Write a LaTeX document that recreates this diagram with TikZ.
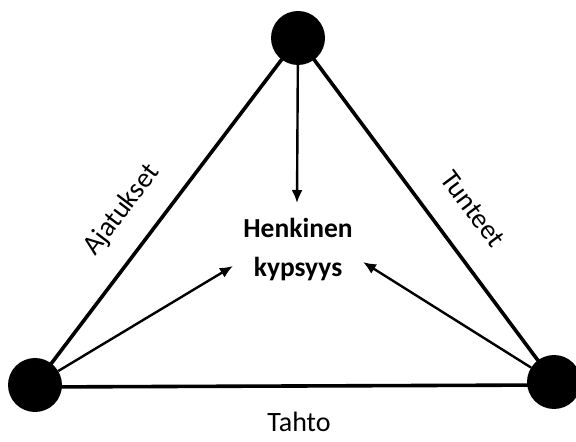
\documentclass[tikz,border=0pt]{standalone}
\usepackage{fontspec}
\setmainfont{Carlito}
\usetikzlibrary{arrows.meta}
\begin{document}
\begin{tikzpicture}[x=1pt,y=1pt,
  dot/.style={circle,fill=black,minimum size=54pt,inner sep=0pt},
  edge/.style={line width=3.6pt},
  pointer/.style={line width=2.4pt,-{Latex[length=13pt,width=11pt]}},
  lbl/.style={font=\fontsize{28}{32}\selectfont,inner sep=0pt}]
\useasboundingbox (0,0) rectangle (576,442);
\node[dot] (top) at (298,404) {};
\node[dot] (bl) at (35,57) {};
\node[dot] (br) at (554,60) {};
\draw[edge] (bl.center) -- (top.center) -- (br.center);
\draw[edge] ([yshift=-2pt]bl.center) -- ([yshift=-3pt]br.center);
\node[font=\fontsize{27.5}{39}\selectfont\bfseries,align=center,inner sep=0pt] (c) at (298,192) {Henkinen\\kypsyys};
\coordinate (t1) at (297,239);
\coordinate (t2) at (233,176);
\coordinate (t3) at (363,180);
\draw[pointer] (top) -- (t1);
\draw[pointer] (bl) -- (t2);
\draw[pointer] (br) -- (t3);
\node[lbl,rotate=52.8] (a) at (122,232) {Ajatukset};
\node[lbl,rotate=-53.4] (b) at (473,233) {Tunteet};
\node[lbl] (d) at (299,20) {Tahto};
\end{tikzpicture}
\end{document}
